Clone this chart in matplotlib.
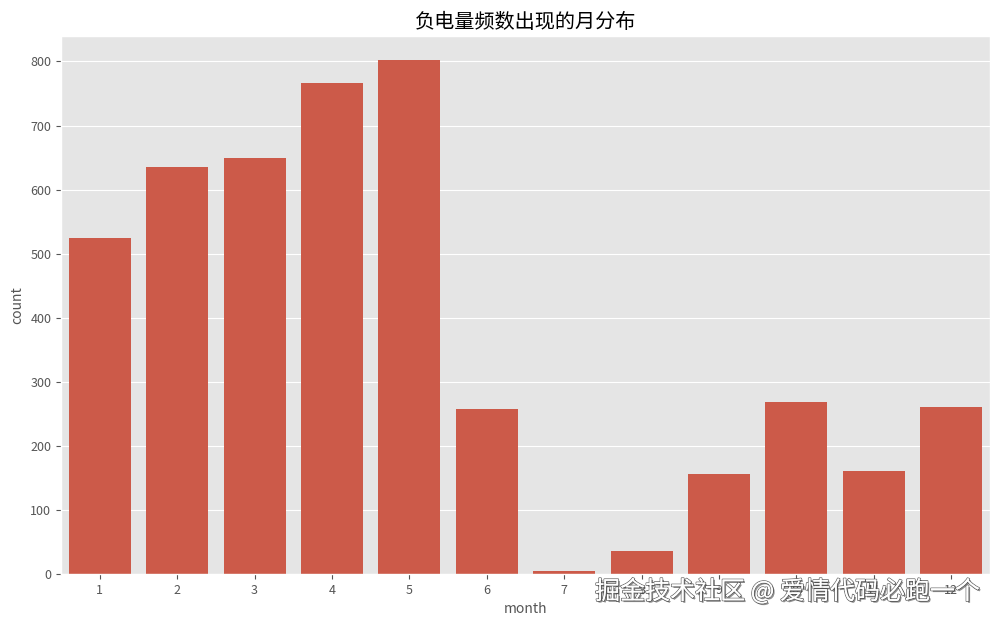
import matplotlib
matplotlib.use("Agg")
import matplotlib.pyplot as plt
import matplotlib.patheffects as pe

plt.style.use("ggplot")
plt.rcParams["font.family"] = ["Noto Sans CJK SC", "DejaVu Sans"]
plt.rcParams["axes.unicode_minus"] = False

months = ["1", "2", "3", "4", "5", "6", "7", "8", "9", "10", "11", "12"]
counts = [525, 636, 649, 766, 802, 257, 5, 36, 156, 268, 161, 260]

fig = plt.figure(figsize=(10, 6.25), dpi=100)
ax = fig.add_axes([0.061, 0.0816, 0.929, 0.861])

x = range(len(months))
ax.bar(x, counts, width=0.8, color="#CC5A49")
ax.set_xticks(list(x))
ax.set_xticklabels(months)
ax.set_xlim(-0.5, len(months) - 0.5)
ax.set_ylim(0, 840)
ax.grid(axis="x", visible=False)
ax.tick_params(labelsize=9, colors="#555555")
ax.set_xlabel("month", fontsize=10, color="#555555")
ax.set_ylabel("count", fontsize=10, color="#555555")
ax.set_title("负电量频数出现的月分布", fontsize=14.5, color="black")

# watermark
fig.text(0.98, 0.053, "掘金技术社区 @ 爱情代码必跑一个", ha="right", va="center",
         fontsize=18, color="white",
         path_effects=[pe.withStroke(linewidth=1.2, foreground="#666666"),
                       pe.SimplePatchShadow(offset=(1.2, -1.2), shadow_rgbFace="#444444", alpha=0.6),
                       pe.Normal()])

fig.savefig("out.png", dpi=100)
